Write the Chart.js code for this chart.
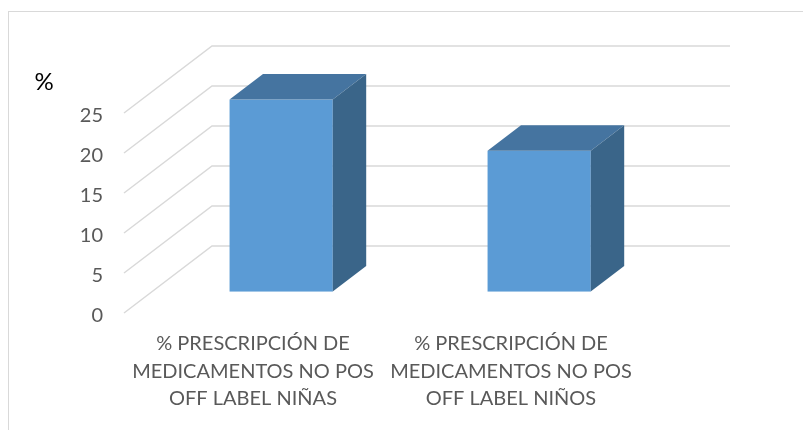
<!DOCTYPE html>
<html>
<head>
<meta charset="utf-8">
<title>Prescripción off label</title>
<script src="https://cdn.jsdelivr.net/npm/chart.js@4.4.1/dist/chart.umd.min.js"></script>
<style>
  html, body { margin: 0; padding: 0; background: #fff; overflow: hidden; }
  #wrap { position: relative; width: 803px; height: 430px; }
</style>
</head>
<body>
<div id="wrap"><canvas id="offLabelChart"></canvas></div>
<script>
// datos
const categorias = [
    ['% PRESCRIPCIÓN DE', 'MEDICAMENTOS NO POS', 'OFF LABEL NIÑAS'],
    ['% PRESCRIPCIÓN DE', 'MEDICAMENTOS NO POS', 'OFF LABEL NIÑOS']
];
const porcentajes = [24.0, 17.6];
const ticksY = [0, 5, 10, 15, 20, 25];
const tituloEje = '%';

// perspectiva tipo Excel 3D (pixeles de profundidad total)
const PROF_X = 88;
const PROF_Y = 67;
const BARRA_DESDE = 0.32;   // fraccion de profundidad donde empieza la barra
const BARRA_HASTA = 0.70;   // fraccion donde termina

const COLOR_FRENTE = '#5B9BD5';
const COLOR_TAPA = '#4574A0';
const COLOR_LADO = '#3A6589';
const COLOR_GRILLA = '#D9D9D9';
const COLOR_TEXTO = '#595959';
const FUENTE = 'Lato';

const barras3D = {
    id: 'barras3D',
    beforeDraw(chart) {
        const ctx = chart.ctx;
        ctx.save();
        ctx.strokeStyle = COLOR_GRILLA;
        ctx.lineWidth = 1;
        ctx.strokeRect(8.5, 11.5, 900, 600);
        ctx.restore();
    },
    beforeDatasetsDraw(chart) {
        // paredes: diagonales a la izquierda + lineas del fondo
        const ctx = chart.ctx;
        const y = chart.scales.y;
        const area = chart.chartArea;
        ctx.save();
        ctx.strokeStyle = COLOR_GRILLA;
        ctx.lineWidth = 1.5;
        y.ticks.forEach(t => {
            const py = y.getPixelForValue(t.value);
            ctx.beginPath();
            ctx.moveTo(area.left, py);
            ctx.lineTo(area.left + PROF_X, py - PROF_Y);
            ctx.lineTo(area.right + PROF_X + 2, py - PROF_Y);
            ctx.stroke();
        });
        ctx.restore();
    },
    afterDatasetsDraw(chart) {
        const ctx = chart.ctx;
        const meta = chart.getDatasetMeta(0);
        const ox = BARRA_DESDE * PROF_X, oy = BARRA_DESDE * PROF_Y;
        const dx = (BARRA_HASTA - BARRA_DESDE) * PROF_X;
        const dy = (BARRA_HASTA - BARRA_DESDE) * PROF_Y;
        ctx.save();
        meta.data.forEach(bar => {
            const p = bar.getProps(['x', 'y', 'base', 'width'], true);
            const x0 = p.x - p.width / 2 + ox, x1 = p.x + p.width / 2 + ox;
            const top = p.y - oy, bot = p.base - oy;

            ctx.fillStyle = COLOR_FRENTE;
            ctx.fillRect(x0, top, x1 - x0, bot - top);

            ctx.fillStyle = COLOR_TAPA;
            ctx.beginPath();
            ctx.moveTo(x0, top);
            ctx.lineTo(x1, top);
            ctx.lineTo(x1 + dx, top - dy);
            ctx.lineTo(x0 + dx, top - dy);
            ctx.closePath();
            ctx.fill();

            ctx.fillStyle = COLOR_LADO;
            ctx.beginPath();
            ctx.moveTo(x1, top);
            ctx.lineTo(x1 + dx, top - dy);
            ctx.lineTo(x1 + dx, bot - dy);
            ctx.lineTo(x1, bot);
            ctx.closePath();
            ctx.fill();
        });
        ctx.restore();
    },
    afterDraw(chart) {
        const ctx = chart.ctx;
        ctx.save();
        ctx.fillStyle = '#000';
        ctx.font = '24px ' + FUENTE;
        ctx.textAlign = 'center';
        ctx.textBaseline = 'middle';
        ctx.fillText(tituloEje, 44, 82);
        ctx.restore();
    }
};

const ctx = document.getElementById('offLabelChart').getContext('2d');
new Chart(ctx, {
    type: 'bar',
    data: {
        labels: categorias,
        datasets: [{
            label: '%',
            data: porcentajes,
            backgroundColor: 'rgba(0,0,0,0)',
            categoryPercentage: 1,
            barPercentage: 0.4
        }]
    },
    options: {
        responsive: true,
        maintainAspectRatio: false,
        animation: false,
        events: [],
        layout: {
            padding: { top: 113, right: 163, left: 0, bottom: 0 }
        },
        plugins: {
            legend: { display: false },
            tooltip: { enabled: false }
        },
        scales: {
            x: {
                grid: { display: false, drawTicks: false },
                border: { display: false },
                ticks: {
                    autoSkip: false,
                    maxRotation: 0,
                    padding: 17,
                    color: COLOR_TEXTO,
                    font: { family: FUENTE, size: 20, lineHeight: 1.375 }
                },
                afterFit: s => { s.height = 117; }
            },
            y: {
                min: ticksY[0],
                max: ticksY[ticksY.length - 1],
                grid: { display: false, drawTicks: false },
                border: { display: false },
                ticks: {
                    stepSize: ticksY[1] - ticksY[0],
                    padding: 21,
                    labelOffset: 3,
                    color: COLOR_TEXTO,
                    font: { family: FUENTE, size: 20 }
                },
                afterFit: s => { s.width = 124; }
            }
        }
    },
    plugins: [barras3D]
});
</script>
</body>
</html>
